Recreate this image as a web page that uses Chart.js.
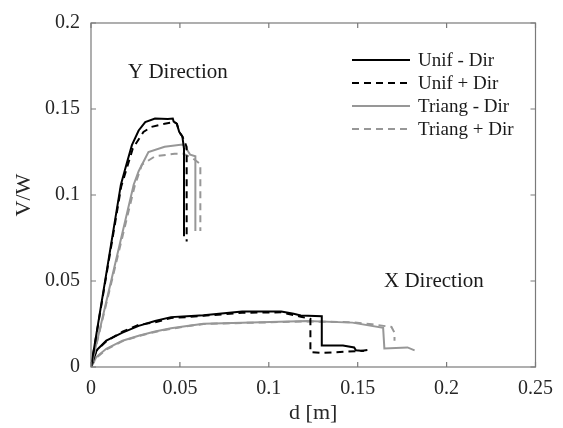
<!DOCTYPE html>
<html lang="en">
<head>
    <meta charset="UTF-8">
    <title>V/W vs d</title>
    <script src="https://cdn.jsdelivr.net/npm/chart.js"></script>
    <style>
        body { margin: 0; background: #fff; }
        #wrap { width: 563px; height: 428px; }
    </style>
</head>
<body>
    <div id="wrap"><canvas id="pushover" width="563" height="428"></canvas></div>
    <script>
        // axis ticks
        const xTicks = [0, 0.05, 0.1, 0.15, 0.2, 0.25];
        const yTicks = [0, 0.05, 0.1, 0.15, 0.2];

        // curve points [d, V/W] - Y direction
        const yUnifMinus = [[0,0],[0.0168,0.106],[0.020,0.118],[0.023,0.129],[0.0268,0.1375],[0.0305,0.1424],
            [0.036,0.1445],[0.0432,0.1442],[0.046,0.1445],[0.0465,0.1427],[0.0483,0.1414],[0.0496,0.1367],
            [0.0514,0.134],[0.0523,0.127],[0.0523,0.076]];
        const yUnifPlus = [[0,0],[0.017,0.105],[0.0235,0.127],[0.0295,0.1367],[0.034,0.1396],[0.0414,0.1414],
            [0.047,0.1424],[0.0483,0.1414],[0.0496,0.1367],[0.0514,0.134],[0.0538,0.128],[0.0538,0.073]];
        const yTriangMinus = [[0,0],[0.024,0.106],[0.0268,0.1138],[0.0323,0.125],[0.0414,0.128],[0.0514,0.1294],
            [0.053,0.128],[0.0558,0.1234],[0.0587,0.1225],[0.0587,0.079]];
        const yTriangPlus = [[0,0],[0.0245,0.105],[0.0286,0.1176],[0.036,0.1225],[0.047,0.124],[0.052,0.124],
            [0.057,0.1215],[0.0615,0.118],[0.0615,0.079]];

        // X direction
        const xUnifMinus = [[0,0],[0.0031,0.0097],[0.0086,0.0153],[0.0177,0.02],[0.0268,0.0239],[0.036,0.0267],
            [0.045,0.029],[0.054,0.0295],[0.0633,0.0301],[0.085,0.0322],[0.107,0.0322],[0.114,0.031],
            [0.118,0.0300],[0.1298,0.0295],[0.1298,0.0125],[0.1417,0.0125],[0.148,0.0114],[0.149,0.0097],[0.1535,0.0093]];
        const xUnifPlus = [[0,0],[0.003,0.0095],[0.0086,0.015],[0.0177,0.0205],[0.0268,0.0245],[0.036,0.026],
            [0.045,0.0285],[0.054,0.029],[0.0633,0.0298],[0.085,0.0315],[0.107,0.0318],[0.118,0.0292],
            [0.1234,0.028],[0.1234,0.0087],[0.13,0.0082],[0.151,0.0093],[0.158,0.0102]];
        const xTriangMinus = [[0,0],[0.0031,0.0059],[0.0086,0.0106],[0.0177,0.0153],[0.0268,0.0182],[0.036,0.0206],
            [0.045,0.0225],[0.054,0.0239],[0.0633,0.0252],[0.085,0.0257],[0.1216,0.0267],[0.147,0.0258],
            [0.1643,0.0228],[0.165,0.0108],[0.178,0.0114],[0.182,0.0097]];
        const xTriangPlus = [[0,0],[0.0031,0.0055],[0.0086,0.0102],[0.0177,0.015],[0.0268,0.018],[0.036,0.0204],
            [0.045,0.0222],[0.054,0.0237],[0.0633,0.025],[0.085,0.0256],[0.1216,0.0265],[0.147,0.026],
            [0.158,0.0248],[0.169,0.0233],[0.1707,0.0199],[0.1707,0.0153]];

        const seriesNames = ['Unif - Dir', 'Unif + Dir', 'Triang - Dir', 'Triang + Dir'];

        const FONT = "'Liberation Serif', 'Times New Roman', serif";
        const styles = [
            { color: '#000000', dash: [] },
            { color: '#000000', dash: [7, 5] },
            { color: '#979797', dash: [] },
            { color: '#979797', dash: [7, 5] }
        ];

        const toXY = pts => pts.map(p => ({ x: p[0], y: p[1] }));
        const groups = [
            [yUnifMinus, yUnifPlus, yTriangMinus, yTriangPlus],
            [xUnifMinus, xUnifPlus, xTriangMinus, xTriangPlus]
        ];
        const datasets = [];
        groups.forEach(g => g.forEach((pts, i) => {
            datasets.push({
                label: seriesNames[i],
                data: toXY(pts),
                showLine: true,
                borderColor: styles[i].color,
                borderDash: styles[i].dash,
                borderWidth: 2,
                pointRadius: 0,
                tension: 0,
                fill: false
            });
        }));

        // box, inward ticks, legend and direction labels
        const boxPlugin = {
            id: 'boxPlugin',
            afterDatasetsDraw(chart) {
                const { ctx, chartArea: a, scales: { x, y } } = chart;
                ctx.save();
                ctx.strokeStyle = '#7a7a7a';
                ctx.lineWidth = 1.2;
                ctx.setLineDash([]);
                ctx.strokeRect(a.left, a.top, a.right - a.left, a.bottom - a.top);
                const tl = 5;
                ctx.beginPath();
                xTicks.forEach(v => {
                    const px = x.getPixelForValue(v);
                    ctx.moveTo(px, a.bottom); ctx.lineTo(px, a.bottom - tl);
                    ctx.moveTo(px, a.top); ctx.lineTo(px, a.top + tl);
                });
                yTicks.forEach(v => {
                    const py = y.getPixelForValue(v);
                    ctx.moveTo(a.left, py); ctx.lineTo(a.left + tl, py);
                    ctx.moveTo(a.right, py); ctx.lineTo(a.right - tl, py);
                });
                ctx.stroke();

                // legend
                ctx.font = '19px ' + FONT;
                ctx.textBaseline = 'middle';
                ctx.fillStyle = '#1a1a1a';
                const ly = [60, 83, 106, 129];
                seriesNames.forEach((name, i) => {
                    ctx.beginPath();
                    ctx.strokeStyle = styles[i].color;
                    ctx.lineWidth = 2;
                    ctx.setLineDash(styles[i].dash);
                    ctx.moveTo(352, ly[i]);
                    ctx.lineTo(410, ly[i]);
                    ctx.stroke();
                    ctx.fillText(name, 418, ly[i] + 1);
                });
                ctx.setLineDash([]);

                ctx.font = '21px ' + FONT;
                ctx.textBaseline = 'alphabetic';
                ctx.fillText('Y Direction', 128, 78);
                ctx.fillText('X Direction', 384, 287);
                ctx.restore();
            }
        };

        new Chart(document.getElementById('pushover'), {
            type: 'scatter',
            data: { datasets },
            plugins: [boxPlugin],
            options: {
                responsive: false,
                animation: false,
                layout: { padding: { top: 15, right: 15, left: 0, bottom: 0 } },
                plugins: { legend: { display: false }, tooltip: { enabled: false } },
                scales: {
                    x: {
                        type: 'linear', min: 0, max: 0.25,
                        afterBuildTicks: s => { s.ticks = xTicks.map(v => ({ value: v })); },
                        afterFit: s => { s.height = 61; },
                        grid: { display: false, drawTicks: false },
                        border: { display: false },
                        ticks: { padding: 10, color: '#262626', font: { family: FONT, size: 20 }, maxRotation: 0,
                                 callback: v => String(v) },
                        title: { display: true, text: 'd [m]', color: '#262626', font: { family: FONT, size: 22 }, padding: { top: 0, bottom: 2 } }
                    },
                    y: {
                        type: 'linear', min: 0, max: 0.2,
                        afterBuildTicks: s => { s.ticks = yTicks.map(v => ({ value: v })); },
                        afterFit: s => { s.width = 91; },
                        grid: { display: false, drawTicks: false },
                        border: { display: false },
                        ticks: { padding: 11, color: '#262626', font: { family: FONT, size: 20 },
                                 callback: v => String(v) },
                        title: { display: true, text: 'V/W', color: '#262626', font: { family: FONT, size: 22 }, padding: { top: 11, bottom: 0 } }
                    }
                }
            }
        });
    </script>
</body>
</html>
